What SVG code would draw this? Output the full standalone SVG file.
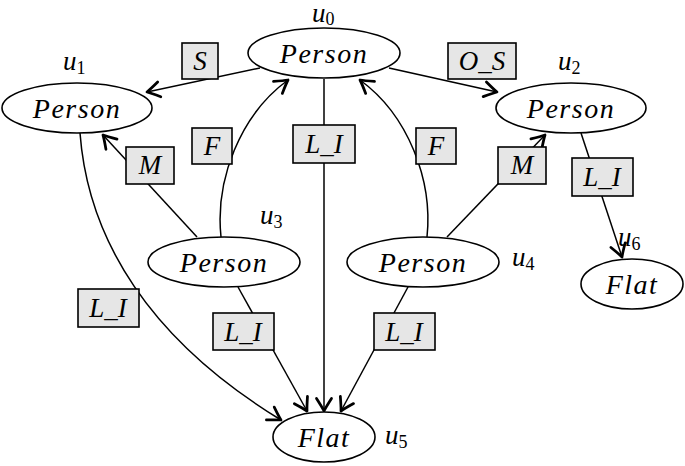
<svg xmlns="http://www.w3.org/2000/svg" width="685" height="466" viewBox="0 0 685 466" font-family="Liberation Serif">
<style>
.n{fill:#fff;stroke:#000;stroke-width:1.6}
.t{font-style:italic;font-size:28px;letter-spacing:1.5px;text-anchor:middle;fill:#000}
.b{fill:#e6e6e6;stroke:#000;stroke-width:1.6}
.bl{font-style:italic;font-size:27px;text-anchor:middle;fill:#000}
.e{fill:none;stroke:#000;stroke-width:1.5}
.a{marker-end:url(#ar)}
.u{font-style:italic;font-size:27px;fill:#000}
.s{font-style:normal;font-size:18px}
</style>
<defs>
<marker id="ar" markerUnits="userSpaceOnUse" markerWidth="20" markerHeight="20" viewBox="-12 -8 14 16" refX="0" refY="0" orient="auto">
<path d="M-10,-6 Q-3,-1.5 0,0 Q-3,1.5 -10,6" fill="none" stroke="#000" stroke-width="2.2" stroke-linecap="round" stroke-linejoin="round"/>
</marker>
</defs>
<g id="edges">
<path class="e a" d="M260,68 L147,92"/>
<path class="e a" d="M389,68 L497,92"/>
<path class="e a" d="M221,237 C215,180 240,115 288,80"/>
<path class="e a" d="M197,237 L103,135"/>
<path class="e a" d="M324,79 L324,411"/>
<path class="e a" d="M427,237 C433,180 408,115 360,80"/>
<path class="e a" d="M447,237 L545,135"/>
<path class="e a" d="M581,133 L622,257"/>
<path class="e a" d="M80,133 C88,240 150,340 281,420"/>
<path class="e a" d="M238,287 L307,411"/>
<path class="e a" d="M408,287 L341,411"/>
</g>
<g id="lbl-S"><rect class="b" x="182" y="43" width="36" height="36"/><text class="bl" x="200" y="70">S</text></g>
<g id="lbl-OS"><rect class="b" x="448" y="43" width="68" height="36"/><text class="bl" x="482" y="70">O_S</text></g>
<g id="lbl-F1"><rect class="b" x="192" y="128" width="40" height="36"/><text class="bl" x="212" y="155">F</text></g>
<g id="lbl-M1"><rect class="b" x="126" y="147" width="48" height="37"/><text class="bl" x="150" y="174">M</text></g>
<g id="lbl-LI0"><rect class="b" x="293" y="125" width="62" height="38"/><text class="bl" x="324" y="153">L_I</text></g>
<g id="lbl-F2"><rect class="b" x="416" y="128" width="40" height="36"/><text class="bl" x="436" y="155">F</text></g>
<g id="lbl-M2"><rect class="b" x="498" y="147" width="48" height="37"/><text class="bl" x="522" y="174">M</text></g>
<g id="lbl-LI2"><rect class="b" x="572" y="158" width="61" height="38"/><text class="bl" x="602" y="186">L_I</text></g>
<g id="lbl-LI1"><rect class="b" x="78" y="289" width="61" height="38"/><text class="bl" x="108" y="317">L_I</text></g>
<g id="lbl-LI3"><rect class="b" x="213" y="313" width="61" height="37"/><text class="bl" x="243" y="341">L_I</text></g>
<g id="lbl-LI4"><rect class="b" x="374" y="313" width="61" height="37"/><text class="bl" x="404" y="341">L_I</text></g>
<g id="u0"><ellipse class="n" cx="324" cy="53" rx="76" ry="25"/><text class="t" x="324" y="63">Person</text><text class="u" x="312" y="22" font-size="25">u<tspan class="s" dy="3">0</tspan></text></g>
<g id="u1"><ellipse class="n" cx="77" cy="108" rx="75" ry="25"/><text class="t" x="77" y="118">Person</text><text class="u" x="63" y="70">u<tspan class="s" dy="4">1</tspan></text></g>
<g id="u2"><ellipse class="n" cx="571" cy="108" rx="75" ry="25"/><text class="t" x="571" y="118">Person</text><text class="u" x="558" y="70">u<tspan class="s" dy="4">2</tspan></text></g>
<g id="u3"><ellipse class="n" cx="224" cy="262" rx="76" ry="25"/><text class="t" x="224" y="272">Person</text><text class="u" x="260" y="224">u<tspan class="s" dy="4">3</tspan></text></g>
<g id="u4"><ellipse class="n" cx="423" cy="262" rx="76" ry="25"/><text class="t" x="423" y="272">Person</text><text class="u" x="512" y="266">u<tspan class="s" dy="4">4</tspan></text></g>
<g id="u5"><ellipse class="n" cx="324" cy="437" rx="51" ry="25"/><text class="t" x="324" y="447">Flat</text><text class="u" x="385" y="444">u<tspan class="s" dy="4">5</tspan></text></g>
<g id="u6"><ellipse class="n" cx="632" cy="284" rx="51" ry="25"/><text class="t" x="632" y="294">Flat</text><text class="u" x="618" y="246">u<tspan class="s" dy="4">6</tspan></text></g>
</svg>
